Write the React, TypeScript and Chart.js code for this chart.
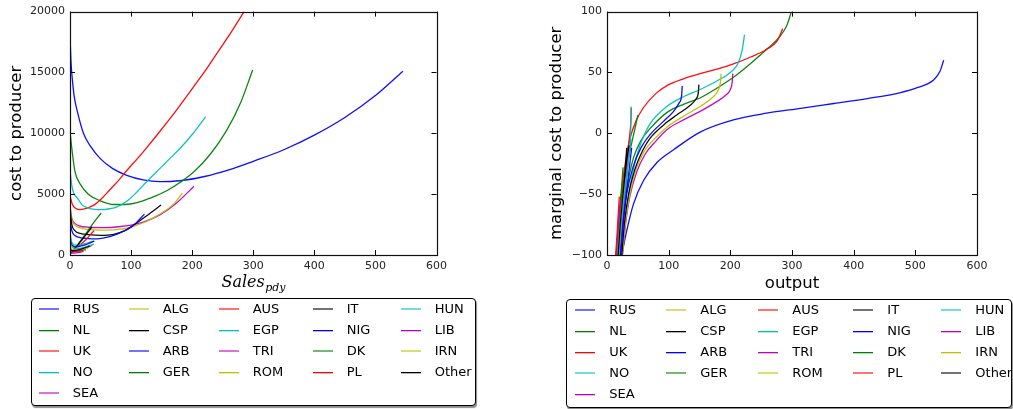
import React, { useEffect, useRef } from 'react';
import { Chart, registerables } from 'chart.js';

Chart.register(...registerables);

// ---------- categories ----------
const countries = ['RUS', 'NL', 'UK', 'NO', 'SEA', 'ALG', 'CSP', 'ARB', 'GER', 'AUS', 'EGP', 'TRI', 'ROM', 'IT', 'NIG', 'DK', 'PL', 'HUN', 'LIB', 'IRN', 'Other'];

// ---------- tick labels ----------
const xTicks = [0, 100, 200, 300, 400, 500, 600];
const costTicks = [0, 5000, 10000, 15000, 20000];
const mcTicks = [-100, -50, 0, 50, 100];

// ---------- left panel: cost to producer vs sales [sales, cost] ----------
const cost_RUS = [[0.3, 17700], [1.5, 16000], [3.6, 14550], [7, 13000], [12, 11800], [22, 10000], [34, 8900], [50, 7900], [70, 7100], [93, 6550], [120, 6170], [147, 6030], [180, 6100], [220, 6450], [260, 7000], [300, 7700], [350, 8650], [400, 9850], [450, 11300], [500, 13100], [545, 15100]];
const cost_NL = [[0.3, 10000], [3.6, 8500], [8, 6900], [17, 5800], [30, 5000], [50, 4450], [71, 4150], [90, 4150], [110, 4300], [130, 4650], [159, 5300], [202, 6800], [230, 8300], [256, 10200], [280, 12600], [299, 15200]];
const cost_UK = [[0.3, 4800], [3.6, 4200], [9, 3850], [17, 3730], [28, 3850], [39, 4100], [52, 4650], [66, 5400], [80, 6150], [93, 6940], [110, 7900], [126, 8850], [147, 10150], [175, 11950], [202, 13800], [225, 15400], [245, 16900], [265, 18400], [285, 20000]];
const cost_NO = [[0.3, 6800], [3, 5700], [6, 5100], [12, 4700], [20, 4100], [28, 3900], [40, 3750], [50, 3730], [65, 3800], [77, 3950], [95, 4500], [110, 5200], [125, 6000], [147, 7100], [165, 8000], [180, 8750], [200, 9900], [222, 11350]];
const cost_SEA = [[0.3, 3900], [3, 3000], [8, 2600], [15, 2400], [30, 2280], [55, 2250], [80, 2320], [100, 2450], [120, 2700], [147, 3300], [175, 4300], [203, 5650]];
const cost_ALG = [[0.3, 3900], [3, 2900], [8, 2450], [15, 2250], [30, 2100], [50, 2040], [75, 2080], [100, 2300], [125, 2750], [150, 3450], [170, 4200], [184, 5075]];
const cost_CSP = [[0.3, 3600], [3, 2500], [8, 2000], [15, 1800], [30, 1680], [50, 1620], [70, 1680], [90, 2000], [104, 2450], [125, 3200], [149, 4100]];
const cost_ARB = [[0.3, 2900], [3, 2000], [8, 1600], [15, 1450], [30, 1350], [45, 1330], [65, 1500], [85, 1900], [104, 2450], [122, 3360]];
const cost_GER = [[0.3, 80], [10, 700], [20, 1350], [30, 2050], [40, 2750], [51, 3450]];
const cost_AUS = [[0.3, 1500], [2, 1000], [5, 750], [10, 700], [18, 900], [26, 1250], [33, 1650], [39.5, 2000]];
const cost_EGP = [[0.3, 1800], [2, 1200], [5, 900], [10, 800], [18, 850], [26, 950], [33, 1050], [39, 1150]];
const cost_TRI = [[0.3, 600], [3, 400], [8, 350], [15, 400], [25, 550], [36, 800]];
const cost_ROM = [[0.3, 500], [3, 350], [8, 300], [15, 350], [22, 450], [30, 600]];
const cost_IT = [[0.3, 100], [5, 350], [10, 650], [18, 1150], [26, 1650], [36, 2310]];
const cost_NIG = [[0.3, 1200], [2, 900], [5, 700], [10, 650], [18, 750], [26, 850], [33, 1000], [40, 1150]];
const cost_DK = [[0.3, 400], [5, 300], [10, 300], [18, 350], [26, 450]];
const cost_PL = [[0.3, 300], [5, 250], [10, 280], [15, 330], [20, 400]];
const cost_HUN = [[0.3, 1000], [3, 700], [8, 550], [15, 550], [25, 650], [39, 900]];
const cost_LIB = [[0.3, 200], [5, 150], [10, 170], [16, 220], [22, 300]];
const cost_IRN = [[0.3, 700], [3, 500], [8, 420], [15, 450], [22, 520], [28, 600]];
const cost_Other = [[0.3, 400], [5, 350], [10, 380], [18, 480], [25, 600], [32, 750]];

// ---------- right panel: marginal cost vs output [output, mc] ----------
const mc_RUS = [[24, -100], [32, -80], [43, -58], [59, -39], [81, -24], [108, -13.5], [151, 1], [205, 11], [259, 16.5], [314, 20.5], [368, 24.5], [422, 28.5], [476, 33.5], [503, 37.5], [530, 44], [540, 51], [546, 60]];
const mc_NL = [[22, -100], [26, -75], [30, -55], [36, -35], [43, -20], [55, -6], [70, 4], [97, 17], [125, 24], [151, 29], [178, 37], [205, 46], [232, 57], [259, 69], [281, 80], [292, 89], [299, 100]];
const mc_UK = [[16, -100], [20, -70], [25, -42], [31, -20], [38, -3], [47, 10], [59, 21], [80, 33], [100, 40], [125, 45], [151, 49], [180, 53], [205, 57], [232, 62.5], [259, 69], [276, 76], [285, 86]];
const mc_NO = [[25, -100], [30, -72], [37, -45], [45, -25], [55, -8], [70, 8], [97, 22], [124, 30], [151, 36], [178, 43], [200, 50], [212, 57], [219, 68], [223, 81]];
const mc_SEA = [[25, -100], [30, -75], [37, -52], [48, -32], [62, -17], [80, -6], [97, 3], [124, 11], [151, 18], [178, 26], [192, 31], [200, 36], [203, 42], [204, 49]];
const mc_ALG = [[25, -100], [30, -73], [37, -50], [47, -30], [60, -15], [80, -3], [97, 5], [124, 14], [151, 22], [170, 29], [180, 35], [184, 42], [185, 49]];
const mc_CSP = [[24, -100], [28, -75], [35, -50], [45, -30], [58, -14], [70, -4], [97, 9], [113, 15], [135, 23], [144, 28], [148, 33], [149, 40]];
const mc_ARB = [[22, -100], [26, -75], [32, -50], [42, -28], [55, -12], [70, -1], [92, 10], [108, 18], [117, 25], [121, 31], [122, 39]];
const mc_GER = [[18, -100], [22, -70], [27, -45], [33, -25], [40, -8], [45, 3], [50, 15]];
const mc_AUS = [[17, -100], [22, -70], [27, -45], [32, -22], [36, -5], [38.5, 8], [39.5, 21]];
const mc_EGP = [[20, -100], [25, -70], [30, -45], [34, -25], [37, -10], [38.5, 3], [39, 22]];
const mc_TRI = [[21, -100], [25, -75], [29, -52], [32, -34], [34.5, -20], [36, -10]];
const mc_ROM = [[19, -100], [22, -78], [25, -58], [28, -40], [30, -30]];
const mc_IT = [[16, -100], [20, -76], [24, -55], [28, -38], [32, -22], [36, -10]];
const mc_NIG = [[22, -100], [26, -75], [30, -55], [34, -38], [37, -25], [40, -12]];
const mc_DK = [[15, -100], [18, -80], [21, -60], [24, -42], [26, -28]];
const mc_PL = [[14, -100], [16, -85], [18, -68], [20, -52]];
const mc_HUN = [[19, -100], [24, -70], [29, -48], [33, -30], [36, -17], [39, -5]];
const mc_LIB = [[15, -100], [18, -80], [20, -66], [22, -55]];
const mc_IRN = [[17, -100], [20, -80], [24, -58], [28, -40]];
const mc_Other = [[18, -100], [21, -78], [25, -55], [29, -34], [32, -12]];

const costSeries = [cost_RUS, cost_NL, cost_UK, cost_NO, cost_SEA, cost_ALG, cost_CSP, cost_ARB, cost_GER, cost_AUS, cost_EGP, cost_TRI, cost_ROM, cost_IT, cost_NIG, cost_DK, cost_PL, cost_HUN, cost_LIB, cost_IRN, cost_Other];
const mcSeries = [mc_RUS, mc_NL, mc_UK, mc_NO, mc_SEA, mc_ALG, mc_CSP, mc_ARB, mc_GER, mc_AUS, mc_EGP, mc_TRI, mc_ROM, mc_IT, mc_NIG, mc_DK, mc_PL, mc_HUN, mc_LIB, mc_IRN, mc_Other];

// ---------- styles ----------
const colorCycle = ['0,0,255', '0,128,0', '255,0,0', '0,191,191', '191,0,191', '191,191,0', '0,0,0'];
const rgba = (i: number, a: number) => `rgba(${colorCycle[i % 7]},${a})`;
// legend rows whose sample line straddles two pixel rows (renders lighter)
const leftLightRows = [true, false, true, false, true];
const rightLightRows = [true, false, false, true, false];
const FONT = "'DejaVu Sans', 'Liberation Sans', sans-serif";

const framePlugin = {
  id: 'frameTicks',
  afterDatasetsDraw(chart: any) {
    const { ctx, chartArea: a, scales } = chart;
    const xs = scales.x, ys = scales.y;
    const L = 5;
    ctx.save();
    ctx.strokeStyle = '#000';
    ctx.lineWidth = 1;
    ctx.beginPath();
    xs.ticks.forEach((t: any) => {
      const p = Math.round(xs.getPixelForValue(t.value)) + 0.5;
      ctx.moveTo(p, a.bottom); ctx.lineTo(p, a.bottom - L);
      ctx.moveTo(p, a.top); ctx.lineTo(p, a.top + L);
    });
    ys.ticks.forEach((t: any) => {
      const p = Math.round(ys.getPixelForValue(t.value)) + 0.5;
      ctx.moveTo(a.left, p); ctx.lineTo(a.left + L, p);
      ctx.moveTo(a.right, p); ctx.lineTo(a.right - L, p);
    });
    ctx.stroke();
    ctx.lineWidth = 1.2;
    ctx.strokeStyle = '#111';
    ctx.strokeRect(Math.round(a.left) + 0.5, Math.round(a.top) + 0.5, Math.round(a.right - a.left), Math.round(a.bottom - a.top));
    ctx.restore();
  },
};

const salesTitlePlugin = {
  id: 'salesTitle',
  afterDraw(chart: any) {
    const { ctx, chartArea: a } = chart;
    const f1 = "italic 16px 'DejaVu Serif', serif";
    const f2 = "italic 11px 'DejaVu Serif', serif";
    ctx.save();
    ctx.fillStyle = '#000';
    ctx.textAlign = 'left';
    ctx.textBaseline = 'alphabetic';
    ctx.font = f1;
    const w1 = ctx.measureText('Sales').width;
    ctx.font = f2;
    const w2 = ctx.measureText('pdy').width;
    const x0 = (a.left + a.right) / 2 - (w1 + w2) / 2;
    ctx.font = f1;
    ctx.fillText('Sales', x0, 287);
    ctx.font = f2;
    ctx.fillText('pdy', x0 + w1 + 0.5, 291);
    ctx.restore();
  },
};

type PlotProps = {
  left: number; width: number; height: number;
  series: number[][][];
  yTicks: number[]; yMin: number; yMax: number;
  yTitle: string; xTitle?: string;
  yWidth: number; padTop: number; padRight: number; xHeight: number;
  yTitlePad: number; minusFmt?: boolean; extra?: any[];
};

function Plot(p: PlotProps) {
  const ref = useRef<HTMLCanvasElement | null>(null);
  useEffect(() => {
    if (!ref.current) return;
    const datasets = p.series.map((pts, i) => ({
      label: countries[i],
      data: pts.map(([x, y]) => ({ x, y })),
      borderColor: rgba(i, 0.95),
      backgroundColor: rgba(i, 0.95),
      borderWidth: 1.3,
      pointRadius: 0,
      showLine: true,
      fill: false,
      cubicInterpolationMode: 'monotone' as const,
      order: p.series.length - i,
    }));
    const tickFont = { family: FONT, size: 11 };
    const chart = new Chart(ref.current, {
      type: 'scatter',
      data: { datasets },
      plugins: [framePlugin, ...(p.extra || [])],
      options: {
        animation: false,
        responsive: false,
        devicePixelRatio: 1,
        layout: { padding: { left: 0, top: p.padTop, right: p.padRight, bottom: 0 } },
        plugins: { legend: { display: false }, tooltip: { enabled: false } },
        scales: {
          x: {
            type: 'linear', min: 0, max: 600,
            afterBuildTicks: (s: any) => { s.ticks = xTicks.map((v) => ({ value: v })); },
            afterFit: (s: any) => { s.height = p.xHeight; },
            grid: { display: false, drawTicks: false },
            border: { display: false },
            ticks: { color: '#222', font: tickFont, padding: 5, maxRotation: 0, autoSkip: false },
            title: p.xTitle ? { display: true, text: p.xTitle, color: '#000', font: { family: FONT, size: 16.5 }, padding: { top: 0, bottom: 6 } } : { display: false },
          },
          y: {
            type: 'linear', min: p.yMin, max: p.yMax,
            afterBuildTicks: (s: any) => { s.ticks = p.yTicks.map((v) => ({ value: v })); },
            afterFit: (s: any) => { s.width = p.yWidth; },
            grid: { display: false, drawTicks: false },
            border: { display: false },
            ticks: {
              color: '#222', font: tickFont, padding: 5, autoSkip: false,
              callback: (v: any) => (p.minusFmt && v < 0 ? '\u2212' + Math.abs(v) : String(v)),
            },
            title: { display: true, text: p.yTitle, color: '#000', font: { family: FONT, size: 16.5 }, padding: { top: p.yTitlePad, bottom: 0 } },
          },
        },
      } as any,
    });
    return () => chart.destroy();
  }, []);
  return (
    <canvas ref={ref} width={p.width} height={p.height}
      style={{ position: 'absolute', left: p.left, top: 0, width: p.width, height: p.height }} />
  );
}

type LegendProps = { left: number; top: number; width: number; height: number; lightRows: boolean[]; colX: number[]; textGap: number; row0: number; rowStep: number };

function Legend(l: LegendProps) {
  return (
    <div style={{
      position: 'absolute', left: l.left, top: l.top, width: l.width, height: l.height,
      border: '1px solid #000', borderRadius: 4, boxSizing: 'border-box', background: '#fff',
      boxShadow: '1px 2px 1px rgba(0,0,0,0.45)', fontFamily: FONT, fontSize: 13, color: '#000',
    }}>
      {countries.map((name, i) => {
        const col = i < 5 ? 0 : 1 + Math.floor((i - 5) / 4);
        const row = i < 5 ? i : (i - 5) % 4;
        const cy = Math.round(l.row0 + row * l.rowStep - 1);
        const x = Math.round(l.colX[col] - 1);
        const light = l.lightRows[row];
        return (
          <React.Fragment key={name}>
            <div style={{
              position: 'absolute', left: x, top: light ? cy - 1 : cy, width: 20,
              height: light ? 2 : 1, background: rgba(i, light ? 0.55 : 1),
              boxShadow: light ? 'none' : `0 1px 0 ${rgba(i, 0.3)}`,
            }} />
            <div style={{ position: 'absolute', left: x + l.textGap, top: cy - 8, height: 16, lineHeight: '16px', whiteSpace: 'nowrap' }}>{name}</div>
          </React.Fragment>
        );
      })}
    </div>
  );
}

export default function App() {
  return (
    <div style={{ position: 'absolute', left: 0, top: 0, width: 1013, height: 409, background: '#fff', overflow: 'hidden' }}>
      <Plot left={0} width={480} height={300} series={costSeries}
        yTicks={costTicks} yMin={0} yMax={20000} yTitle="cost to producer"
        yWidth={70} padTop={10} padRight={43.5} xHeight={45} yTitlePad={6.5}
        extra={[salesTitlePlugin]} />
      <Plot left={540} width={460} height={300} series={mcSeries}
        yTicks={mcTicks} yMin={-100} yMax={100} yTitle="marginal cost to producer" xTitle="output"
        yWidth={67} padTop={9} padRight={23} xHeight={45} yTitlePad={7} minusFmt />
      <Legend left={31} top={298} width={445} height={108} lightRows={leftLightRows}
        colX={[8.3, 98.3, 188.3, 282, 370]} textGap={33.7} row0={11} rowStep={21} />
      <Legend left={566} top={299} width={446} height={109} lightRows={rightLightRows}
        colX={[9, 100, 191.7, 286.7, 375]} textGap={34.3} row0={11.4} rowStep={21} />
    </div>
  );
}
